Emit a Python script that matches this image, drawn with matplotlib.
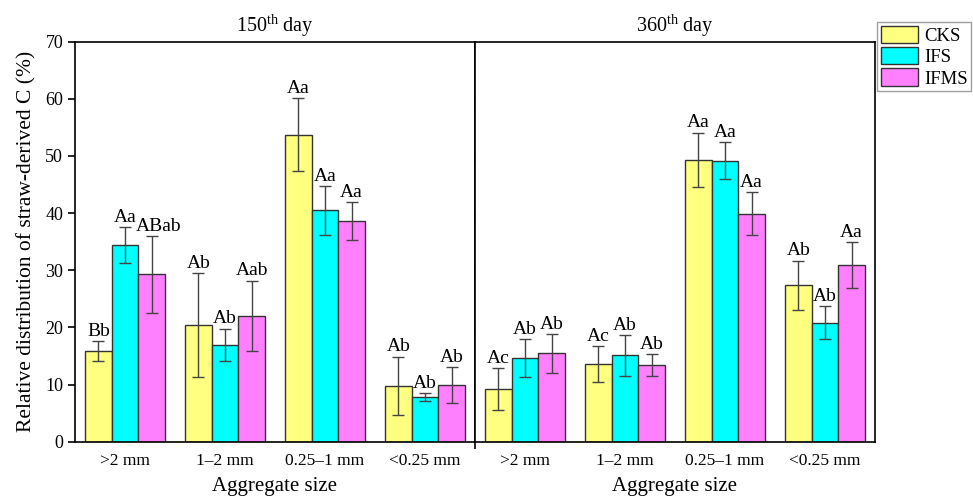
import numpy as np
import matplotlib.pyplot as plt
from matplotlib.patches import Patch

plt.rcParams['font.family'] = ['Liberation Serif', 'DejaVu Serif']
plt.rcParams['mathtext.fontset'] = 'custom'
plt.rcParams['mathtext.rm'] = 'Liberation Serif'

# data
sizes = ['>2 mm', '1\u20132 mm', '0.25\u20131 mm', '<0.25 mm']
treatments = ['CKS', 'IFS', 'IFMS']
colors = ['#FFFF80', '#00FFFF', '#FF80FF']

day150_mean = [[15.9, 20.4, 53.7, 9.8],
               [34.4, 17.0, 40.5, 7.8],
               [29.3, 22.0, 38.6, 9.9]]
day150_err = [[1.7, 9.1, 6.4, 5.1],
              [3.2, 2.8, 4.3, 0.7],
              [6.7, 6.2, 3.3, 3.2]]
day150_lab = [['Bb', 'Ab', 'Aa', 'Ab'],
              ['Aa', 'Ab', 'Aa', 'Ab'],
              ['ABab', 'Aab', 'Aa', 'Ab']]

day360_mean = [[9.2, 13.6, 49.3, 27.4],
               [14.6, 15.1, 49.2, 20.8],
               [15.5, 13.4, 39.9, 30.9]]
day360_err = [[3.7, 3.1, 4.8, 4.3],
              [3.3, 3.6, 3.2, 2.9],
              [3.4, 1.9, 3.8, 4.0]]
day360_lab = [['Ac', 'Ac', 'Aa', 'Ab'],
              ['Ab', 'Ab', 'Aa', 'Ab'],
              ['Ab', 'Ab', 'Aa', 'Aa']]

fig = plt.figure(figsize=(9.73, 5.0), dpi=100)
ax1 = fig.add_axes([75/973, 58.3/500, 400/973, 400/500])
ax2 = fig.add_axes([475/973, 58.3/500, 400/973, 400/500])

x = np.arange(len(sizes))
w = 0.8/3

panels = [(ax1, day150_mean, day150_err, day150_lab, r'150$^{\rm th}$ day'),
          (ax2, day360_mean, day360_err, day360_lab, r'360$^{\rm th}$ day')]

for ax, means, errs, labs, title in panels:
    for i in range(3):
        pos = x + (i - 1) * w
        ax.bar(pos, means[i], w, color=colors[i], edgecolor='#333333',
               linewidth=1.0, zorder=2)
        ax.errorbar(pos, means[i], yerr=errs[i], fmt='none', ecolor='#444444',
                    elinewidth=1.0, capsize=4, capthick=1.0, zorder=3)
        for j in range(len(sizes)):
            dx = 0.07 if labs[i][j] == 'ABab' else 0
            ax.text(pos[j] + dx, means[i][j] + errs[i][j] + 0.2, labs[i][j],
                    ha='center', va='bottom', fontsize=14)
    ax.set_xlim(-0.5, 3.5)
    ax.set_ylim(0, 70)
    ax.set_xticks(x)
    ax.set_xticklabels(sizes, fontsize=12.5)
    ax.tick_params(axis='x', length=0, pad=8)
    ax.set_xlabel('Aggregate size', fontsize=15, labelpad=6)
    ax.set_title(title, fontsize=14.5, pad=7)
    for sp in ax.spines.values():
        sp.set_linewidth(1.2)

ax1.set_yticks(np.arange(0, 71, 10))
ax1.tick_params(axis='y', direction='out', length=5, width=1.2,
                labelsize=13, right=True)
ax1.set_ylabel('Relative distribution of straw-derived C (%)', fontsize=15.5,
               labelpad=6)
# right-hand ticks of left panel point inward
for t in ax1.yaxis.get_major_ticks():
    t.tick2line.set_marker(3)
ax2.set_yticks([])

handles = [Patch(facecolor=c, edgecolor='#333333', linewidth=1.0) for c in colors]
fig.legend(handles, treatments, loc='upper left',
           bbox_to_anchor=(877/973, 1 - 22/500), fontsize=13.5,
           frameon=True, fancybox=False, edgecolor='#888888',
           handlelength=2.0, handleheight=1.05, labelspacing=0.12,
           handletextpad=0.3, borderpad=0.2, borderaxespad=0)

fig.savefig('out.png', dpi=100)
